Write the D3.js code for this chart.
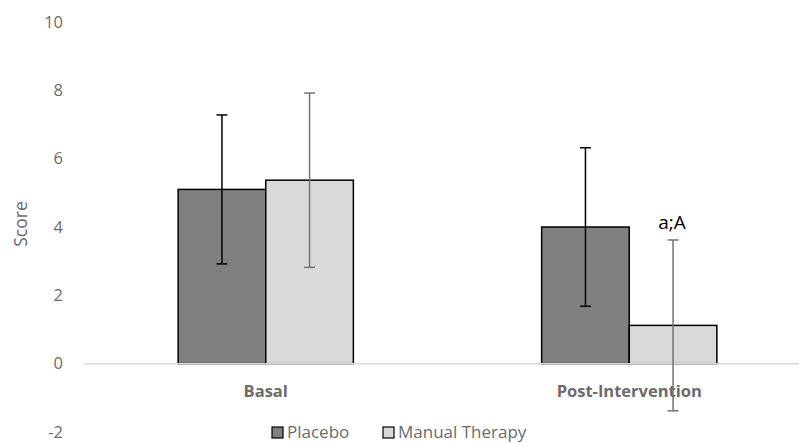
<!DOCTYPE html>
<html>
<head>
<meta charset="utf-8">
<script src="https://cdn.jsdelivr.net/npm/d3@7"></script>
<style>
  body { margin: 0; background: #fff; }
  text { font-family: "Open Sans", "Liberation Sans", sans-serif; }
</style>
</head>
<body>
<div id="chart"></div>
<script>
// 数据
const categories = ["Basal", "Post-Intervention"];
const seriesNames = ["Placebo", "Manual Therapy"];
const placeboValues = [5.1, 4.0];
const placeboErrors = [2.18, 2.32];
const manualValues = [5.37, 1.12];
const manualErrors = [2.55, 2.5];
const yTicks = [-2, 0, 2, 4, 6, 8, 10];
const annotations = [{ category: "Post-Intervention", series: "Manual Therapy", text: "a;A" }];

const width = 799, height = 443;
const margin = { left: 84, right: -12, top: 22, bottom: 11 };

const fills = { "Placebo": "#808080", "Manual Therapy": "#d9d9d9" };
const errColors = { "Placebo": "#000000", "Manual Therapy": "#737373" };

const data = [];
categories.forEach((c, i) => {
    data.push({ category: c, series: "Placebo", value: placeboValues[i], err: placeboErrors[i] });
    data.push({ category: c, series: "Manual Therapy", value: manualValues[i], err: manualErrors[i] });
});

const svg = d3.select("#chart").append("svg")
    .attr("width", width)
    .attr("height", height);

const x0 = d3.scaleBand()
    .domain(categories)
    .range([margin.left, width - margin.right])
    .paddingInner(0.518)
    .paddingOuter(0.259);

const x1 = d3.scaleBand()
    .domain(seriesNames)
    .range([0, x0.bandwidth()]);

const y = d3.scaleLinear()
    .domain([-2, 10])
    .range([height - margin.bottom, margin.top]);

// y轴刻度文字
const yAxis = svg.append("g")
    .attr("transform", "translate(" + 63 + ",0)")
    .call(d3.axisLeft(y).tickValues(yTicks).tickSize(0).tickPadding(0).tickFormat(d => String(d)));
yAxis.select(".domain").remove();
yAxis.selectAll("text")
    .attr("fill", "#6b6b6b")
    .style("font-size", "16.5px")
    .style("font-family", "'Open Sans', sans-serif");

// Y轴标题
svg.append("text")
    .attr("transform", "translate(21," + 224 + ") rotate(-90)")
    .attr("text-anchor", "middle")
    .attr("dy", "0.35em")
    .attr("fill", "#6b6b6b")
    .style("font-size", "17.5px")
    .text("Score");

// bars
svg.append("g").selectAll("rect")
    .data(data)
    .join("rect")
    .attr("x", d => x0(d.category) + x1(d.series))
    .attr("y", d => y(Math.max(0, d.value)))
    .attr("width", x1.bandwidth())
    .attr("height", d => Math.abs(y(d.value) - y(0)))
    .attr("fill", d => fills[d.series])
    .attr("stroke", "#000")
    .attr("stroke-width", 1.5);

// 零线
svg.append("line")
    .attr("x1", margin.left)
    .attr("x2", width)
    .attr("y1", y(0))
    .attr("y2", y(0))
    .attr("stroke", "#d9d9d9")
    .attr("stroke-width", 1.5);

// 误差线
const errG = svg.append("g").selectAll("g")
    .data(data)
    .join("g")
    .attr("stroke", d => errColors[d.series])
    .attr("stroke-width", 1.5);
const cx = d => x0(d.category) + x1(d.series) + x1.bandwidth() / 2;
errG.append("line")
    .attr("x1", cx).attr("x2", cx)
    .attr("y1", d => y(d.value + d.err))
    .attr("y2", d => y(d.value - d.err));
errG.append("line")
    .attr("x1", d => cx(d) - 5.5).attr("x2", d => cx(d) + 5.5)
    .attr("y1", d => y(d.value + d.err))
    .attr("y2", d => y(d.value + d.err));
errG.append("line")
    .attr("x1", d => cx(d) - 5.5).attr("x2", d => cx(d) + 5.5)
    .attr("y1", d => y(d.value - d.err))
    .attr("y2", d => y(d.value - d.err));

// 类别标签
svg.append("g").selectAll("text")
    .data(categories)
    .join("text")
    .attr("x", d => x0(d) + x0.bandwidth() / 2)
    .attr("y", y(0) + 33.5)
    .attr("text-anchor", "middle")
    .attr("fill", "#6b6b6b")
    .style("font-size", "16.5px")
    .style("font-weight", "bold")
    .text(d => d);

// 标注
svg.append("g").selectAll("text")
    .data(annotations)
    .join("text")
    .attr("x", d => x0(d.category) + x1(d.series) + x1.bandwidth() / 2 - 1)
    .attr("y", d => {
        const row = data.find(r => r.category === d.category && r.series === d.series);
        return y(row.value + row.err) - 11;
    })
    .attr("text-anchor", "middle")
    .attr("fill", "#000")
    .style("font-size", "19px")
    .text(d => d.text);

// 图例
const legendX = [272, 383];
const legend = svg.append("g").selectAll("g")
    .data(seriesNames)
    .join("g")
    .attr("transform", (d, i) => "translate(" + legendX[i] + ",427)");
legend.append("rect")
    .attr("width", 11).attr("height", 11)
    .attr("fill", d => fills[d])
    .attr("stroke", "#000")
    .attr("stroke-width", 1.2);
legend.append("text")
    .attr("x", 15)
    .attr("y", 11)
    .attr("fill", "#6b6b6b")
    .style("font-size", "17px")
    .text(d => d);
</script>
</body>
</html>
